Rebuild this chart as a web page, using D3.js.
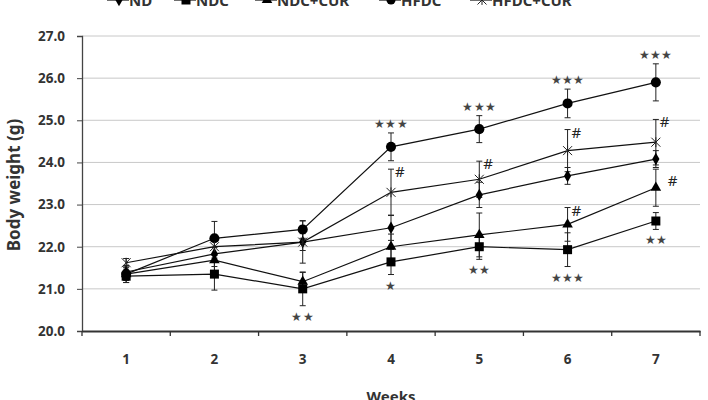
<!DOCTYPE html>
<html><head><meta charset="utf-8">
<script src="https://cdn.jsdelivr.net/npm/d3@7"></script>
<style>body{margin:0;background:#fff}svg{display:block}</style>
</head><body><svg id="c" width="708" height="400"></svg>
<script>
const weeks = ["1","2","3","4","5","6","7"];
const yTicks = [20,21,22,23,24,25,26,27];
const seriesNames = ["ND","NDC","NDC+CUR","HFDC","HFDC+CUR"];
const seriesSymbols = ["diamond","square","triangle","circle","cross"];
const ND      = [21.40,21.83,22.11,22.45,23.23,23.68,24.08];
const NDC     = [21.30,21.35,21.00,21.64,22.00,21.93,22.61];
const NDC_CUR = [21.35,21.68,21.17,22.00,22.28,22.53,23.40];
const HFDC    = [21.35,22.20,22.41,24.37,24.79,25.40,25.90];
const HFDC_CUR= [21.62,22.00,22.11,23.29,23.60,24.28,24.48];
const ND_se      = [0.15,0.30,0.50,0.30,0.30,0.20,0.20];
const NDC_se     = [0.15,0.38,0.40,0.30,0.30,0.40,0.20];
const NDC_CUR_se = [0.15,0.30,0.22,0.30,0.52,0.40,0.44];
const HFDC_se    = [0.20,0.40,0.21,0.33,0.32,0.34,0.44];
const HFDC_CUR_se= [0.10,0.20,0.20,0.55,0.43,0.50,0.54];
// annotations: week, series, text, side
const annotations = [
  ["3","NDC","★★","below"],
  ["4","HFDC","★★★","above"],
  ["4","HFDC+CUR","#","right"],
  ["4","NDC","★","below"],
  ["5","HFDC","★★★","above"],
  ["5","HFDC+CUR","#","right"],
  ["5","NDC","★★","below"],
  ["6","HFDC","★★★","above"],
  ["6","HFDC+CUR","#","right"],
  ["6","NDC+CUR","#","right"],
  ["6","NDC","★★★","below"],
  ["7","HFDC","★★★","above"],
  ["7","HFDC+CUR","#","right"],
  ["7","NDC+CUR","#","rightmid"],
  ["7","NDC","★★","below"]
];

const values = [ND,NDC,NDC_CUR,HFDC,HFDC_CUR];
const errs = [ND_se,NDC_se,NDC_CUR_se,HFDC_se,HFDC_CUR_se];
const series = seriesNames.map((n,i)=>({name:n,sym:seriesSymbols[i],
  pts:weeks.map((w,j)=>({w,v:values[i][j],se:errs[i][j]}))}));

const svg = d3.select("#c");
const font = "'Noto Sans', 'Open Sans', sans-serif";
const x = d3.scaleBand().domain(weeks).range([82,700]).paddingInner(0).paddingOuter(0);
const y = d3.scaleLinear().domain([20,27]).range([331,36]);
const cx = w => x(w)+x.bandwidth()/2;

// gridlines
svg.append("g").selectAll("line").data(yTicks.slice(1)).join("line")
  .attr("x1",82).attr("x2",700).attr("y1",d=>y(d)).attr("y2",d=>y(d))
  .attr("stroke","#c8c8c8").attr("stroke-width",1);

// y axis
const ya = svg.append("g").attr("transform","translate(82,0)")
  .call(d3.axisLeft(y).tickValues(yTicks).tickFormat(d3.format(".1f")).tickSize(5).tickPadding(12));
ya.select(".domain").attr("stroke","#444").attr("stroke-width",1.3);
ya.selectAll(".tick line").attr("stroke","#444");
ya.selectAll("text").attr("font-family",font).attr("font-weight","bold").attr("font-size",13.5).attr("fill","#333");

// x axis
const xa = svg.append("g").attr("transform","translate(0,331)")
  .call(d3.axisBottom(x).tickSize(0).tickPadding(23));
xa.select(".domain").attr("stroke","#333").attr("stroke-width",2);
xa.selectAll("text").attr("font-family",font).attr("font-weight","bold").attr("font-size",13.5).attr("fill","#333");
const bounds = weeks.map(w=>x(w)).concat([x(weeks[weeks.length-1])+x.bandwidth()]);
svg.append("g").selectAll("line").data(bounds).join("line")
  .attr("x1",d=>d).attr("x2",d=>d).attr("y1",331).attr("y2",336)
  .attr("stroke","#333").attr("stroke-width",1.3);

// titles
svg.append("text").attr("transform","translate(20,185) rotate(-90)").attr("text-anchor","middle")
  .attr("font-family",font).attr("font-weight","bold").attr("font-size",17).attr("fill","#333")
  .text("Body weight (g)");
svg.append("text").attr("x",391).attr("y",402).attr("text-anchor","middle")
  .attr("font-family",font).attr("font-weight","bold").attr("font-size",15).attr("fill","#333")
  .text("Weeks");

function sym(g,type,size){
  if(type==="cross"){
    const s=size/2;
    g.append("path").attr("d",`M${-s},${-s}L${s},${s}M${-s},${s}L${s},${-s}M0,${-s*1.1}L0,${s*1.1}`)
      .attr("stroke","#222").attr("stroke-width",1).attr("fill","none");
    return;
  }
  const map={diamond:d3.symbolDiamond,square:d3.symbolSquare,triangle:d3.symbolTriangle,circle:d3.symbolCircle};
  const area={diamond:size*size*0.55,square:size*size,triangle:size*size*0.6,circle:size*size*0.8}[type];
  g.append("path").attr("d",d3.symbol().type(map[type]).size(area)()).attr("fill","#000");
}

const line = d3.line().x(d=>cx(d.w)).y(d=>y(d.v));
// error bars
series.forEach(s=>{
  const g=svg.append("g");
  s.pts.forEach(p=>{
    const X=cx(p.w), t=y(p.v+p.se), b=y(p.v-p.se);
    g.append("line").attr("x1",X).attr("x2",X).attr("y1",t).attr("y2",b).attr("stroke","#222").attr("stroke-width",1);
    g.append("line").attr("x1",X-3).attr("x2",X+3).attr("y1",t).attr("y2",t).attr("stroke","#222").attr("stroke-width",1);
    g.append("line").attr("x1",X-3).attr("x2",X+3).attr("y1",b).attr("y2",b).attr("stroke","#222").attr("stroke-width",1);
  });
});
series.forEach(s=>{
  svg.append("path").datum(s.pts).attr("d",line).attr("fill","none").attr("stroke","#111").attr("stroke-width",1.2);
});
series.forEach(s=>{
  s.pts.forEach(p=>{
    const g=svg.append("g").attr("transform",`translate(${cx(p.w)},${y(p.v)})`);
    sym(g,s.sym,s.sym==="circle"?10:9);
  });
});

// annotations
annotations.forEach(([w,sn,txt,side])=>{
  const s=series.find(d=>d.name===sn); const p=s.pts.find(d=>d.w===w);
  const X=cx(w);
  let tx=X, ty, anchor="middle", fs=txt==="#"?15:12, fill=txt==="#"?"#222":"#444";
  if(side==="above") ty=y(p.v+p.se)-5;
  else if(side==="below") ty=y(p.v-p.se)+15;
  else if(side==="right"){ tx=X+4; ty=y(p.v+p.se)+8; anchor="start"; }
  else { tx=X+12; ty=y(p.v)-2; anchor="start"; }
  svg.append("text").attr("x",tx).attr("y",ty).attr("text-anchor",anchor)
    .attr("font-family",font).attr("font-size",fs).attr("fill",fill).attr("letter-spacing",txt==="#"?0:0.3).text(txt);
});

// legend
const legX=[119,186,267,391,482];
seriesNames.forEach((n,i)=>{
  const g=svg.append("g").attr("transform",`translate(${legX[i]},0)`);
  g.append("line").attr("x1",-12).attr("x2",10).attr("y1",0).attr("y2",0).attr("stroke","#111").attr("stroke-width",1.2);
  sym(g,seriesSymbols[i],9);
  g.append("text").attr("x",10).attr("y",6).attr("font-family",font).attr("font-weight","bold")
    .attr("font-size",15).attr("fill","#333").text(n);
});
</script></body></html>
